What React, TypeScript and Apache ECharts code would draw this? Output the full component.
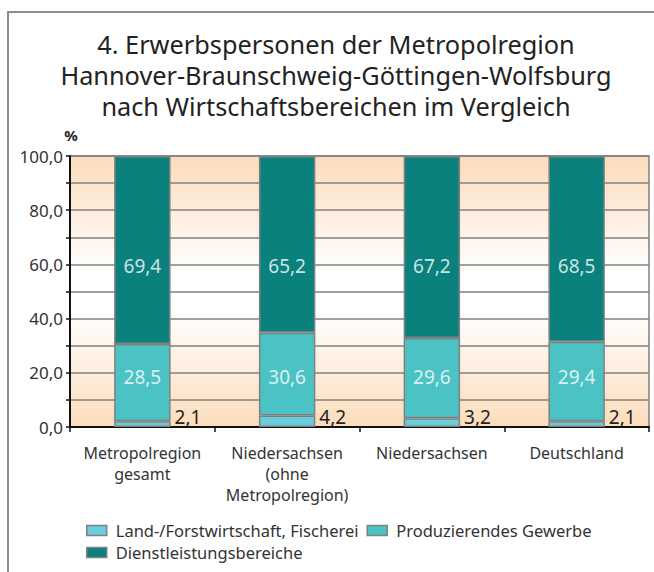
import React, { useEffect, useRef } from "react";
import * as echarts from "echarts";

const categories = [
  "Metropolregion\ngesamt",
  "Niedersachsen\n(ohne\nMetropolregion)",
  "Niedersachsen",
  "Deutschland",
];
const landForst = [2.1, 4.2, 3.2, 2.1];
const produzierend = [28.5, 30.6, 29.6, 29.4];
const dienst = [69.4, 65.2, 67.2, 68.5];
const seriesNames = [
  "Land-/Forstwirtschaft, Fischerei",
  "Produzierendes Gewerbe",
  "Dienstleistungsbereiche",
];
const titleLines = [
  "4. Erwerbspersonen der Metropolregion",
  "Hannover-Braunschweig-Göttingen-Wolfsburg",
  "nach Wirtschaftsbereichen im Vergleich",
];

const DIENST_LABEL_Y = 59.5;
const PROD_LABEL_Y = 18.5;

const fmt = (v: number) => v.toFixed(1).replace(".", ",");
const FONT = "'Noto Sans', 'Open Sans', sans-serif";

export default function App() {
  const ref = useRef<HTMLDivElement>(null);
  useEffect(() => {
    if (!ref.current) return;
    const chart = echarts.init(ref.current, null, { renderer: "svg" });
    const border = { borderColor: "#808080", borderWidth: 1.5 };
    const legendCommon = {
      itemWidth: 20,
      itemHeight: 10,
      itemGap: 8,
      padding: 0,
      icon: "rect",
      itemStyle: { borderColor: "#808080", borderWidth: 1.5 },
      textStyle: {
        fontFamily: FONT,
        fontSize: 16.5,
        color: "#333",
        padding: [0, 0, 0, 4],
      },
    };
    chart.setOption({
      animation: false,
      textStyle: { fontFamily: FONT },
      title: {
        text: titleLines.join("\n"),
        left: 331,
        textAlign: "center",
        top: 23,
        textStyle: {
          fontFamily: FONT,
          fontSize: 25.3,
          fontWeight: "normal",
          color: "#222",
          lineHeight: 31,
        },
      },
      graphic: [
        {
          type: "rect",
          shape: { x: 8, y: 12, width: 800, height: 800 },
          style: { fill: "none", stroke: "#8c8c8c", lineWidth: 2 },
          silent: true,
        },
        {
          type: "text",
          x: 71,
          y: 135,
          style: {
            text: "%",
            fontFamily: FONT,
            fontSize: 15,
            fontWeight: "bold",
            fill: "#222",
            align: "center",
            verticalAlign: "middle",
          },
        },
      ],
      legend: [
        {
          ...legendCommon,
          data: seriesNames.slice(0, 2),
          left: 86,
          top: 522,
        },
        {
          ...legendCommon,
          data: seriesNames.slice(2),
          left: 86,
          top: 544,
        },
      ],
      grid: {
        left: 70,
        top: 156,
        right: 5,
        bottom: 145,
        show: true,
        borderColor: "#808080",
        borderWidth: 1.5,
        backgroundColor: new echarts.graphic.LinearGradient(0, 0, 0, 1, [
          { offset: 0, color: "#fcdcbb" },
          { offset: 0.42, color: "#ffffff" },
          { offset: 0.58, color: "#ffffff" },
          { offset: 1, color: "#fcdcbb" },
        ]),
      },
      xAxis: {
        type: "category",
        data: categories,
        axisLine: { lineStyle: { color: "#111", width: 2 } },
        axisTick: { show: true, length: 5, lineStyle: { color: "#111", width: 1.5 } },
        axisLabel: {
          fontFamily: FONT,
          fontSize: 16,
          color: "#333",
          lineHeight: 21,
          margin: 15,
          interval: 0,
        },
        splitLine: { show: false },
      },
      yAxis: {
        type: "value",
        min: 0,
        max: 100,
        interval: 10,
        axisLine: { show: true, lineStyle: { color: "#111", width: 2 } },
        axisTick: { show: true, length: 4, lineStyle: { color: "#111", width: 1.5 } },
        axisLabel: {
          fontFamily: FONT,
          fontSize: 17,
          color: "#333",
          margin: 7,
          formatter: (v: number) => (v % 20 === 0 ? fmt(v) : ""),
        },
        splitLine: { show: true, lineStyle: { color: "#808080", width: 1.5 } },
      },
      series: [
        {
          name: seriesNames[0],
          type: "bar",
          stack: "total",
          barWidth: "39%",
          data: landForst,
          itemStyle: { color: "#68cedc", ...border },
          label: {
            show: true,
            position: ["100%", "100%"],
            align: "left",
            verticalAlign: "bottom",
            offset: [4, -1],
            formatter: (p: any) => fmt(p.value),
            fontFamily: FONT,
            fontSize: 19,
            color: "#222",
          },
        },
        {
          name: seriesNames[1],
          type: "bar",
          stack: "total",
          barWidth: "39%",
          data: produzierend,
          itemStyle: { color: "#4bc3c4", ...border },
        },
        {
          name: seriesNames[2],
          type: "bar",
          stack: "total",
          barWidth: "39%",
          data: dienst,
          itemStyle: { color: "#0a817c", ...border },
        },
        {
          type: "scatter",
          symbolSize: 1,
          itemStyle: { color: "rgba(0,0,0,0)" },
          z: 5,
          silent: true,
          data: categories.map((_, i) => [i, PROD_LABEL_Y]),
          label: {
            show: true,
            position: "inside",
            formatter: (p: any) => fmt(produzierend[p.dataIndex]),
            fontFamily: FONT,
            fontSize: 19,
            color: "#ffffff",
          },
        },
        {
          type: "scatter",
          symbolSize: 1,
          itemStyle: { color: "rgba(0,0,0,0)" },
          z: 5,
          silent: true,
          data: categories.map((_, i) => [i, DIENST_LABEL_Y]),
          label: {
            show: true,
            position: "inside",
            formatter: (p: any) => fmt(dienst[p.dataIndex]),
            fontFamily: FONT,
            fontSize: 19,
            color: "#ffffff",
          },
        },
      ],
    });
    return () => chart.dispose();
  }, []);
  return (
    <div
      ref={ref}
      style={{ position: "fixed", left: 0, top: 0, width: 654, height: 572, background: "#fff" }}
    />
  );
}
